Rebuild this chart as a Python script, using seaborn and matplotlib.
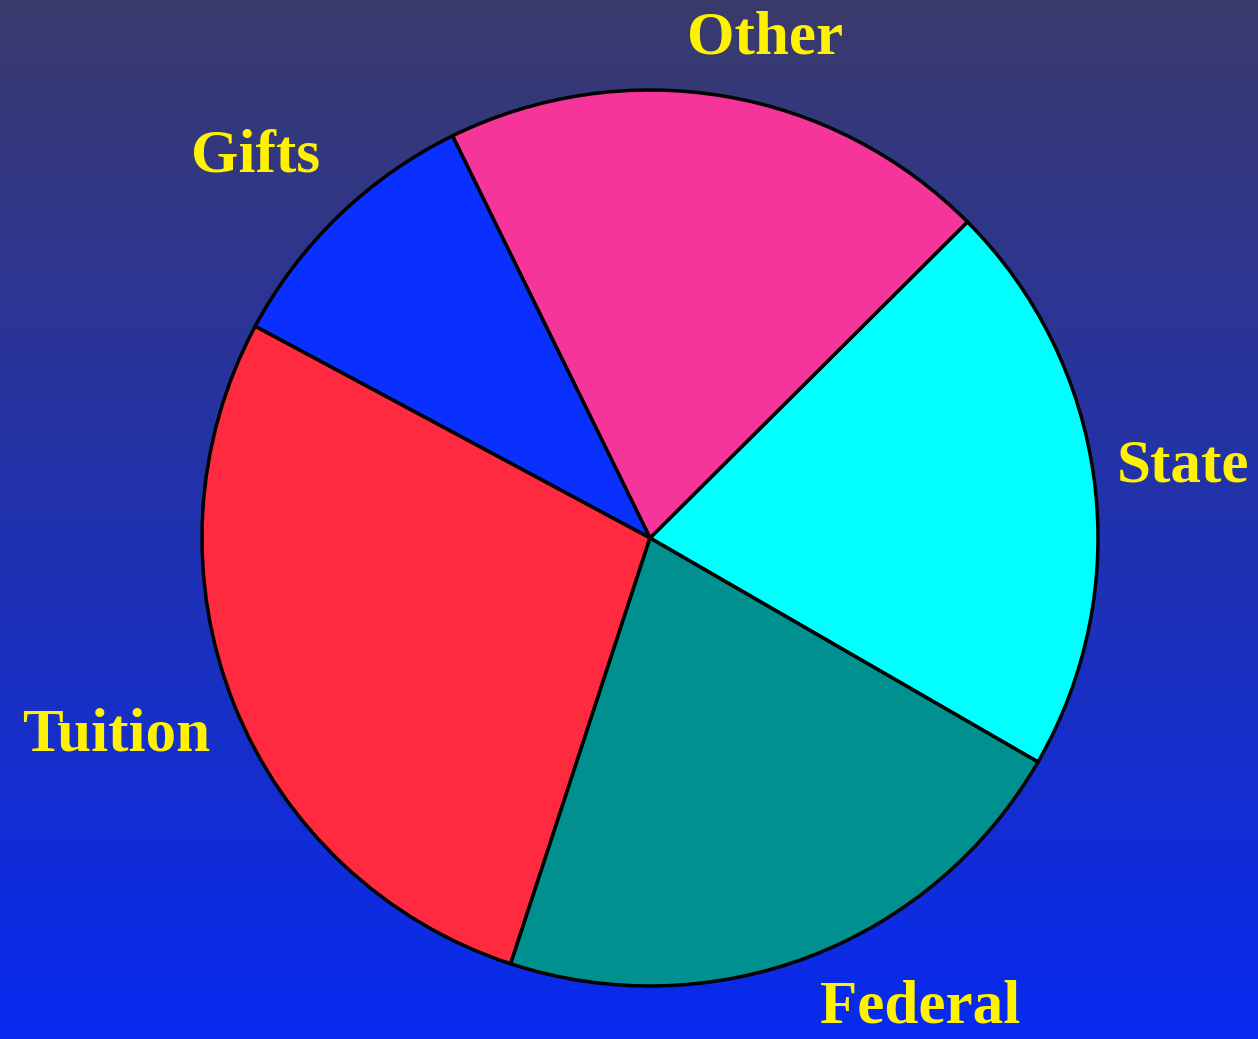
import numpy as np
import matplotlib
matplotlib.use("Agg")
import matplotlib.pyplot as plt
import seaborn as sns

# slice data, counter-clockwise starting at the State/Federal edge
labels = ["State", "Other", "Gifts", "Tuition", "Federal"]
shares = [20.8, 19.8, 9.9, 27.8, 21.7]
colors = ["#00FFFF", "#F53599", "#0A30FF", "#FF2A40", "#009090"]

# label placement (angle shift in degrees, distance in radii)
label_shift = [0.2, -3.5, 2.0, -1.5, 9.0]
label_dist = [1.20, 1.145, 1.225, 1.27, 1.21]

sns.set_theme(style="white")
plt.rcParams["font.family"] = ["Liberation Serif", "DejaVu Serif"]

W, H = 1258, 1039
cx, cy, R = 650, 538, 448
fig = plt.figure(figsize=(W / 100, H / 100), dpi=100)

# gradient background
bg = fig.add_axes([0, 0, 1, 1])
top = np.array([58, 58, 108]) / 255
bot = np.array([8, 42, 240]) / 255
t = np.linspace(0, 1, 256)[:, None]
grad = top[None, :] * (1 - t) + bot[None, :] * t
bg.imshow(grad[:, None, :], aspect="auto", extent=[0, 1, 0, 1])
bg.set_axis_off()

ax = fig.add_axes([0, 0, 1, 1])
ax.set_facecolor("none")
wedges, _ = ax.pie(shares, colors=colors, startangle=-30, counterclock=True,
                   radius=1.0,
                   wedgeprops=dict(edgecolor="black", linewidth=2.5))
ax.set_xlim(-cx / R, (W - cx) / R)
ax.set_ylim(-(H - cy) / R, cy / R)
ax.set_aspect("equal")
ax.set_axis_off()

for w, lab, sh, d in zip(wedges, labels, label_shift, label_dist):
    ang = np.deg2rad((w.theta1 + w.theta2) / 2 + sh)
    ax.text(d * np.cos(ang), d * np.sin(ang), lab, ha="center", va="center",
            color="#FFF200", fontsize=44, fontweight="bold")

fig.savefig("out.png", dpi=100)
